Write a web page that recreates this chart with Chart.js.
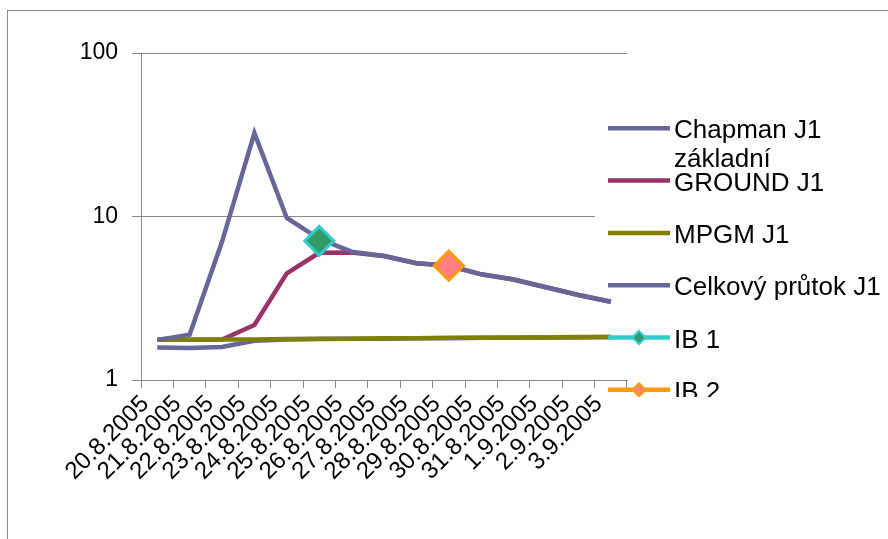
<!DOCTYPE html>
<html>
<head>
<meta charset="utf-8">
<script src="https://cdn.jsdelivr.net/npm/chart.js@4/dist/chart.umd.min.js"></script>
<style>
  body { margin: 0; background: #fff; }
  canvas { display: block; }
</style>
</head>
<body>
<canvas id="canvas" width="888" height="539"></canvas>
<script>
// categories (days) and series
var categories = ['20.8.2005', '21.8.2005', '22.8.2005', '23.8.2005', '24.8.2005', '25.8.2005', '26.8.2005',
                  '27.8.2005', '28.8.2005', '29.8.2005', '30.8.2005', '31.8.2005', '1.9.2005', '2.9.2005', '3.9.2005'];
var chapman  = [1.58, 1.57, 1.59, 1.74, 1.77, 1.78, 1.79, 1.79, 1.80, 1.80, 1.81, 1.81, 1.82, 1.82, 1.83];
var ground   = [1.76, 1.76, 1.77, 2.17, 4.49, 6.0, 6.03, 5.73, 5.18, 5.0, 4.43, 4.12, 3.69, 3.31, 3.01];
var mpgm     = [1.76, 1.76, 1.77, 1.77, 1.78, 1.79, 1.79, 1.80, 1.80, 1.81, 1.81, 1.82, 1.82, 1.83, 1.83];
var celkovy  = [1.76, 1.89, 7.0, 32.4, 9.8, 7.3, 6.09, 5.73, 5.18, 5.0, 4.43, 4.12, 3.69, 3.31, 3.01];
var ib1      = [null, null, null, null, null, 7.1, null, null, null, null, null, null, null, null, null];
var ib2      = [null, null, null, null, null, null, null, null, null, 5.0, null, null, null, null, null];
var yTicks   = [1, 10, 100];

var FONT = '"Liberation Sans", Arial, sans-serif';
var GREY = '#868686';

function wrapText(ctx, text, maxW) {
    var words = text.split(' ');
    var lines = [];
    var cur = '';
    for (var i = 0; i < words.length; i++) {
        var test = cur ? cur + ' ' + words[i] : words[i];
        if (cur && ctx.measureText(test).width > maxW) {
            lines.push(cur);
            cur = words[i];
        } else {
            cur = test;
        }
    }
    lines.push(cur);
    return lines;
}

function diamond(ctx, x, y, r) {
    ctx.beginPath();
    ctx.moveTo(x, y - r);
    ctx.lineTo(x + r, y);
    ctx.lineTo(x, y + r);
    ctx.lineTo(x - r, y);
    ctx.closePath();
}

// excel-like legend on the right, with its white box under the series
var legendBox = {
    id: 'legendBox',
    beforeDatasetsDraw: function(chart) {
        var ctx = chart.ctx;
        ctx.save();
        ctx.fillStyle = '#fff';
        ctx.fillRect(595, 95, 293, 283);
        ctx.restore();
    },
    afterDatasetsDraw: function(chart) {
        var ctx = chart.ctx;
        ctx.save();
        ctx.beginPath();
        ctx.rect(590, 90, 298, 307);
        ctx.clip();
        ctx.font = '26px ' + FONT;
        ctx.textBaseline = 'alphabetic';
        chart.data.datasets.forEach(function(ds, i) {
            var y = 128.3 + i * 52.3;
            ctx.strokeStyle = ds.borderColor;
            ctx.lineWidth = 4.5;
            ctx.beginPath();
            ctx.moveTo(608, y);
            ctx.lineTo(670, y);
            ctx.stroke();
            if (ds.pointRadius) {
                diamond(ctx, 639, y, 6.5);
                ctx.fillStyle = ds.pointBackgroundColor;
                ctx.fill();
                ctx.lineWidth = 2;
                ctx.stroke();
            }
            ctx.fillStyle = '#000';
            wrapText(ctx, ds.label, 888 - 674).forEach(function(t, k) {
                ctx.fillText(t, 674, y + 10 + k * 29);
            });
        });
        ctx.restore();
    },
    afterDraw: function(chart) {
        var ctx = chart.ctx;
        ctx.save();
        ctx.strokeStyle = GREY;
        ctx.lineWidth = 1;
        ctx.strokeRect(7.5, 10.5, 2000, 2000);
        ctx.restore();
    }
};

var data = {
    labels: categories,
    datasets: [
        {label: 'Chapman J1 základní', data: chapman, borderColor: '#666699', order: 5},
        {label: 'GROUND J1', data: ground, borderColor: '#993366', order: 4},
        {label: 'MPGM J1', data: mpgm, borderColor: '#808000', order: 3},
        {label: 'Celkový průtok J1', data: celkovy, borderColor: '#666699', order: 2},
        {label: 'IB 1', data: ib1, borderColor: '#33CCCC', pointBackgroundColor: '#339966',
         pointStyle: 'rectRot', pointRadius: 14.5, pointBorderWidth: 3, order: 1},
        {label: 'IB 2', data: ib2, borderColor: '#FF9900', pointBackgroundColor: '#FF8080',
         pointStyle: 'rectRot', pointRadius: 14.5, pointBorderWidth: 3, order: 0}
    ]
};

var myChart = new Chart(document.getElementById('canvas').getContext('2d'), {
    type: 'line',
    data: data,
    plugins: [legendBox],
    options: {
        responsive: false,
        animation: false,
        layout: {padding: {top: 53, right: 261, left: 0, bottom: 0}},
        elements: {
            line: {borderWidth: 4.5, tension: 0},
            point: {radius: 0, hoverRadius: 0}
        },
        plugins: {legend: {display: false}, tooltip: {enabled: false}},
        scales: {
            x: {
                offset: true,
                grid: {offset: true, drawOnChartArea: false, color: GREY, tickLength: 8},
                border: {color: GREY},
                ticks: {autoSkip: false, minRotation: 45, maxRotation: 45, color: '#000',
                        font: {family: FONT, size: 24}, padding: 2, labelOffset: -12},
                afterFit: function(s) { s.height = 159; }
            },
            y: {
                type: 'logarithmic',
                min: 1,
                max: 100,
                afterBuildTicks: function(s) {
                    s.ticks = yTicks.map(function(v) { return {value: v}; });
                },
                grid: {color: GREY, tickLength: 9},
                border: {color: GREY},
                ticks: {color: '#000', font: {family: FONT, size: 23}, padding: 14,
                        callback: function(v) { return String(v); }},
                afterFit: function(s) { s.width = 141; }
            }
        }
    }
});
</script>
</body>
</html>
